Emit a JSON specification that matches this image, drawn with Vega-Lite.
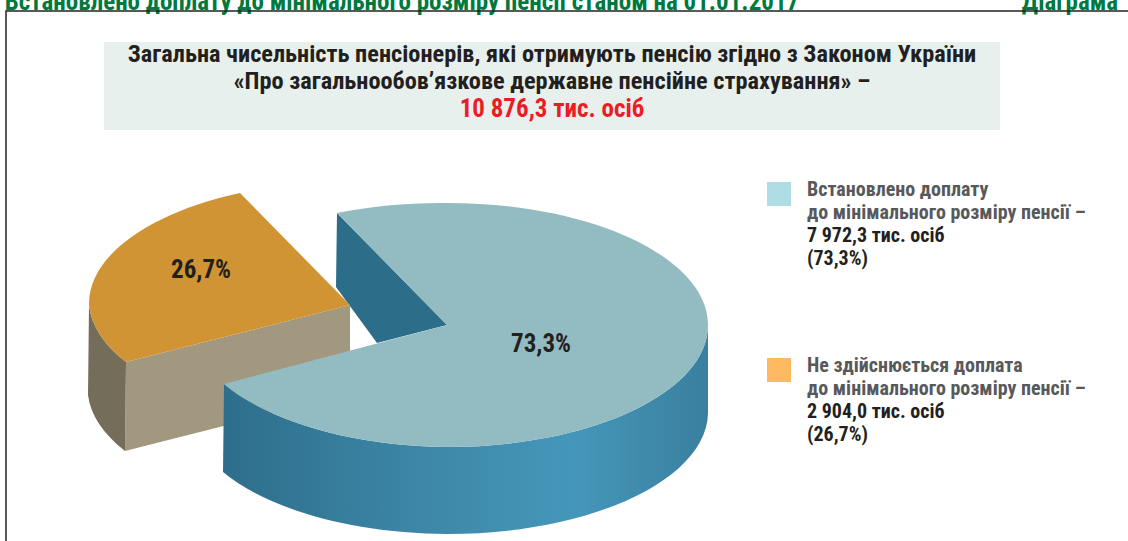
{
"$schema":"https://vega.github.io/schema/vega-lite/v6.json",
"description":"Exploded 3D pie of pensioners. Slice rows hold the values; the perspective wedges are elliptical point-mark glyphs whose sweep was read from the picture, not computed from the values.",
"width":1128,"height":541,"padding":0,"autosize":{"type":"none"},"background":"white",
"config":{"view":{"stroke":null},"text":{"font":"Roboto Condensed, DejaVu Sans Condensed, Roboto","fontWeight":"bold"},"point":{"filled":true,"opacity":1,"size":4,"strokeWidth":0}},
"datasets":{
"slices":[
{"slice":"Не здійснюється доплата","value":2904.0,"share":"26,7%"},
{"slice":"Встановлено доплату","value":7972.3,"share":"73,3%"}],
"heading":[
{"line":"a","text":"Загальна чисельність пенсіонерів, які отримують пенсію згідно з Законом України","role":"title"},
{"line":"b","text":"«Про загальнообов’язкове державне пенсійне страхування» –","role":"title"},
{"line":"c","text":"10 876,3 тис. осіб","role":"total"}],
"legend1":[
{"line":"a","text":"Встановлено доплату","role":"опис"},
{"line":"b","text":"до мінімального розміру пенсії –","role":"опис"},
{"line":"c","text":"7 972,3 тис. осіб","role":"значення"},
{"line":"d","text":"(73,3%)","role":"значення"}],
"legend2":[
{"line":"a","text":"Не здійснюється доплата","role":"опис"},
{"line":"b","text":"до мінімального розміру пенсії –","role":"опис"},
{"line":"c","text":"2 904,0 тис. осіб","role":"значення"},
{"line":"d","text":"(26,7%)","role":"значення"}],
"top":[
{"part":"a","text":"Встановлено доплату до мінімального розміру пенсії станом на 01.01.2017"},
{"part":"b","text":"Діаграма"}]
},
"resolve":{"scale":{"x":"independent","y":"independent","color":"independent","size":"independent"}},
"layer":[
{"data":{"name":"top"},"mark":{"type":"text","fontSize":25,"color":"#00793f","baseline":"alphabetic"},
 "encoding":{"x":{"field":"part","type":"nominal","axis":null,"scale":{"type":"point","domain":["a","b"],"range":[402,1070],"padding":0}},
 "y":{"value":10},"text":{"field":"text"}}},
{"data":{"name":"top"},"transform":[{"filter":"datum.part==='a'"}],"mark":{"type":"point","shape":"M0,530V0H1122","fill":null,"filled":false,"stroke":"#222222","strokeWidth":1.5},
 "encoding":{"x":{"field":"part","type":"nominal","axis":null,"scale":{"type":"point","domain":["a","b"],"range":[6,1128],"padding":0}},
 "y":{"field":"part","type":"nominal","axis":null,"scale":{"type":"point","domain":["a","b"],"range":[11,541],"padding":0}}}},
{"data":{"name":"heading"},"transform":[{"filter":"datum.line==='b'"}],"mark":{"type":"point","shape":"M-448,-40H448V48H-448Z","fill":"#e7f0ec"},
 "encoding":{"x":{"field":"line","type":"nominal","axis":null,"scale":{"type":"point","domain":["a","b","c"],"range":[552,552],"padding":0}},
 "y":{"field":"line","type":"nominal","axis":null,"scale":{"type":"point","domain":["a","b","c"],"range":[55,109],"padding":0}}}},
{"data":{"name":"heading"},"mark":{"type":"text","align":"center","baseline":"middle"},
 "encoding":{"y":{"field":"line","type":"nominal","axis":null,"scale":{"type":"point","domain":["a","b","c"],"range":[55,109],"padding":0}},
 "x":{"field":"line","type":"nominal","axis":null,"scale":{"type":"point","domain":["a","b","c"],"range":[552,552],"padding":0}},
 "text":{"field":"text"},
 "size":{"field":"role","type":"nominal","legend":null,"scale":{"type":"ordinal","domain":["title","total"],"range":[24.3,25]}},
 "color":{"field":"role","type":"nominal","legend":null,"scale":{"domain":["title","total"],"range":["#231f20","#ed1c24"]}}}},
{"data":{"name":"slices"},"transform":[{"filter":"datum.value>5000"}],"mark":{"type":"point","shape":"M-110,-112L0,0L-70,18L-111,-38Z","fill":"#2c6d8a"},
 "encoding":{"x":{"field":"slice","type":"nominal","axis":null,"scale":{"type":"point","domain":["Не здійснюється доплата","Встановлено доплату"],"range":[350,447],"padding":0}},
 "y":{"field":"slice","type":"nominal","axis":null,"scale":{"type":"point","domain":["Не здійснюється доплата","Встановлено доплату"],"range":[305,325],"padding":0}}}},
{"data":{"name":"slices"},"transform":[{"filter":"datum.value<5000"}],"mark":{"type":"point","shape":"M0,0L0,89L-225,146L-224,57Z","fill":"#a1987f"},
 "encoding":{"x":{"field":"slice","type":"nominal","axis":null,"scale":{"type":"point","domain":["Не здійснюється доплата","Встановлено доплату"],"range":[350,447],"padding":0}},
 "y":{"field":"slice","type":"nominal","axis":null,"scale":{"type":"point","domain":["Не здійснюється доплата","Встановлено доплату"],"range":[305,325],"padding":0}}}},
{"data":{"name":"slices"},"transform":[{"filter":"datum.value<5000"}],"mark":{"type":"point","shape":"M-224,57A261,122,0,0,1,-261,0L-262,90A261,122,0,0,0,-225,146Z","fill":"#746d5a"},
 "encoding":{"x":{"field":"slice","type":"nominal","axis":null,"scale":{"type":"point","domain":["Не здійснюється доплата","Встановлено доплату"],"range":[350,447],"padding":0}},
 "y":{"field":"slice","type":"nominal","axis":null,"scale":{"type":"point","domain":["Не здійснюється доплата","Встановлено доплату"],"range":[305,325],"padding":0}}}},
{"data":{"name":"slices"},"transform":[{"filter":"datum.value<5000"}],"mark":{"type":"point","shape":"M0,0L-224,57A261,122,0,0,1,-261,0A261,122,0,0,1,-110,-112Z","fill":"#d09434"},
 "encoding":{"x":{"field":"slice","type":"nominal","axis":null,"scale":{"type":"point","domain":["Не здійснюється доплата","Встановлено доплату"],"range":[350,447],"padding":0}},
 "y":{"field":"slice","type":"nominal","axis":null,"scale":{"type":"point","domain":["Не здійснюється доплата","Встановлено доплату"],"range":[305,325],"padding":0}}}},
{"data":{"name":"slices"},"transform":[{"filter":"datum.value>5000"}],"mark":{"type":"point","shape":"M-223,59A261,122,0,0,0,0,122A261,122,0,0,0,261,0L261,88A261,122,0,0,1,0,209A261,122,0,0,1,-224,147Z","fill":{"gradient":"linear","x1":0,"y1":0,"x2":1,"y2":0,"stops":[{"offset":0,"color":"#2d6e8b"},{"offset":0.4,"color":"#3d86a7"},{"offset":0.72,"color":"#4597ba"},{"offset":1,"color":"#3a7f9f"}]}},
 "encoding":{"x":{"field":"slice","type":"nominal","axis":null,"scale":{"type":"point","domain":["Не здійснюється доплата","Встановлено доплату"],"range":[350,447],"padding":0}},
 "y":{"field":"slice","type":"nominal","axis":null,"scale":{"type":"point","domain":["Не здійснюється доплата","Встановлено доплату"],"range":[305,325],"padding":0}}}},
{"data":{"name":"slices"},"transform":[{"filter":"datum.value>5000"}],"mark":{"type":"point","shape":"M0,0L-110,-112A261,122,0,0,1,0,-122A261,122,0,0,1,261,0A261,122,0,0,1,0,122A261,122,0,0,1,-223,59Z","fill":"#93bbc2"},
 "encoding":{"x":{"field":"slice","type":"nominal","axis":null,"scale":{"type":"point","domain":["Не здійснюється доплата","Встановлено доплату"],"range":[350,447],"padding":0}},
 "y":{"field":"slice","type":"nominal","axis":null,"scale":{"type":"point","domain":["Не здійснюється доплата","Встановлено доплату"],"range":[305,325],"padding":0}}}},
{"data":{"name":"slices"},"mark":{"type":"text","fontSize":25,"color":"#231f20","align":"center","baseline":"middle"},
 "encoding":{"x":{"field":"slice","type":"nominal","axis":null,"scale":{"type":"point","domain":["Не здійснюється доплата","Встановлено доплату"],"range":[201,541],"padding":0}},
 "y":{"field":"slice","type":"nominal","axis":null,"scale":{"type":"point","domain":["Не здійснюється доплата","Встановлено доплату"],"range":[270,344],"padding":0}},
 "text":{"field":"share"}}},
{"data":{"name":"legend1"},"transform":[{"filter":"datum.line==='a'"}],"mark":{"type":"point","shape":"M-12,-8H12V16H-12Z","fill":"#aedde5"},
 "encoding":{"x":{"field":"line","type":"nominal","axis":null,"scale":{"type":"point","domain":["a","b"],"range":[779,779],"padding":0}},
 "y":{"field":"line","type":"nominal","axis":null,"scale":{"type":"point","domain":["a","b","c","d"],"range":[190,259],"padding":0}}}},
{"data":{"name":"legend2"},"transform":[{"filter":"datum.line==='a'"}],"mark":{"type":"point","shape":"M-12,-8H12V16H-12Z","fill":"#fdb95f"},
 "encoding":{"x":{"field":"line","type":"nominal","axis":null,"scale":{"type":"point","domain":["a","b"],"range":[779,779],"padding":0}},
 "y":{"field":"line","type":"nominal","axis":null,"scale":{"type":"point","domain":["a","b","c","d"],"range":[366,435],"padding":0}}}},
{"data":{"name":"legend1"},"mark":{"type":"text","fontSize":20,"align":"left","baseline":"middle"},
 "encoding":{"x":{"field":"line","type":"nominal","axis":null,"scale":{"type":"point","domain":["a","b","c","d"],"range":[807,807],"padding":0}},
 "y":{"field":"line","type":"nominal","axis":null,"scale":{"type":"point","domain":["a","b","c","d"],"range":[190,259],"padding":0}},
 "text":{"field":"text"},
 "color":{"field":"role","type":"nominal","legend":null,"scale":{"domain":["опис","значення"],"range":["#58595b","#231f20"]}}}},
{"data":{"name":"legend2"},"mark":{"type":"text","fontSize":20,"align":"left","baseline":"middle"},
 "encoding":{"x":{"field":"line","type":"nominal","axis":null,"scale":{"type":"point","domain":["a","b","c","d"],"range":[807,807],"padding":0}},
 "y":{"field":"line","type":"nominal","axis":null,"scale":{"type":"point","domain":["a","b","c","d"],"range":[366,435],"padding":0}},
 "text":{"field":"text"},
 "color":{"field":"role","type":"nominal","legend":null,"scale":{"domain":["опис","значення"],"range":["#58595b","#231f20"]}}}}
]
}
